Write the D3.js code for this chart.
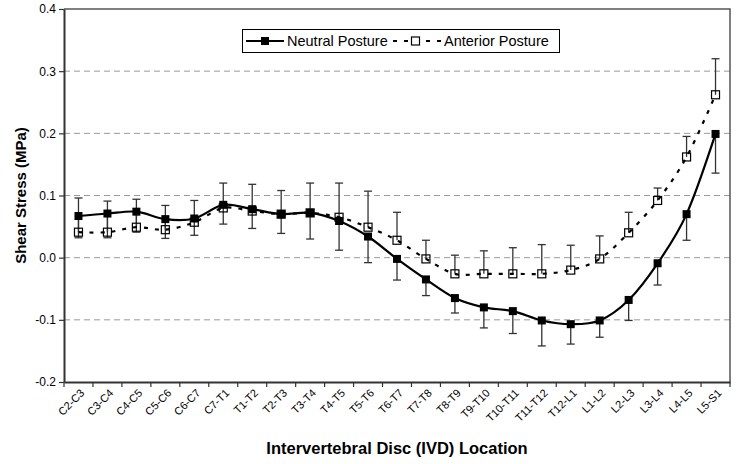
<!DOCTYPE html>
<html>
<head>
<meta charset="utf-8">
<script src="https://cdn.jsdelivr.net/npm/d3@7"></script>
<style>
  body { margin: 0; background: #fff; }
  svg { display: block; font-family: "Liberation Sans", Arial, sans-serif; }
</style>
</head>
<body>
<svg id="chart" width="738" height="464"></svg>
<script>
const categories = ["C2-C3","C3-C4","C4-C5","C5-C6","C6-C7","C7-T1","T1-T2","T2-T3","T3-T4","T4-T5","T5-T6","T6-T7","T7-T8","T8-T9","T9-T10","T10-T11","T11-T12","T12-L1","L1-L2","L2-L3","L3-L4","L4-L5","L5-S1"];
const neutral = [0.067,0.071,0.074,0.062,0.063,0.085,0.078,0.070,0.072,0.059,0.034,-0.002,-0.035,-0.065,-0.080,-0.086,-0.101,-0.107,-0.101,-0.068,-0.009,0.070,0.199];
const neutralErr = [0.035,0.039,0.033,0.031,0.027,0.031,0.031,0.031,0.042,0.047,0.042,0.034,0.026,0.024,0.033,0.036,0.041,0.032,0.027,0.033,0.035,0.042,0.063];
const anterior = [0.041,0.041,0.049,0.045,0.057,0.080,0.075,0.070,0.072,0.065,0.049,0.028,-0.002,-0.026,-0.026,-0.026,-0.026,-0.020,-0.002,0.040,0.092,0.162,0.262];
const anteriorErr = [0.055,0.050,0.045,0.039,0.035,0.040,0.043,0.038,0.048,0.055,0.058,0.045,0.030,0.030,0.037,0.042,0.047,0.040,0.037,0.033,0.020,0.033,0.058];
const yTicks = [0.4,0.3,0.2,0.1,0.0,-0.1,-0.2];
const yTickLabels = ["0.4","0.3","0.2","0.1","0.0","-0.1","-0.2"];
const seriesNames = ["Neutral Posture","Anterior Posture"];
const xTitle = "Intervertebral Disc (IVD) Location";
const yTitle = "Shear Stress (MPa)";

const svg = d3.select("#chart");
const L = 64, R = 730, T = 9, B = 382;
const x = d3.scaleBand().domain(categories).range([L, R]);
const y = d3.scaleLinear().domain([-0.2, 0.4]).range([B, T]);
const cx = c => x(c) + x.bandwidth() / 2;

// gridlines
svg.append("g").selectAll("line").data(yTicks.filter(t => t > -0.2 && t < 0.4)).join("line")
  .attr("x1", L).attr("x2", R).attr("y1", d => y(d)).attr("y2", d => y(d))
  .attr("stroke", "#999").attr("stroke-width", 1).attr("stroke-dasharray", "6,4");

// frame top/right
svg.append("path").attr("d", `M${L},${T}H${R}V${B}`).attr("fill", "none")
  .attr("stroke", "#555").attr("stroke-width", 1.5);

// y axis
const yAxis = d3.axisLeft(y).tickValues(yTicks).tickSize(5).tickSizeOuter(0)
  .tickFormat((d, i) => yTickLabels[i]);
const gy = svg.append("g").attr("transform", `translate(${L},0)`).call(yAxis);
gy.select(".domain").attr("stroke", "#333").attr("stroke-width", 2);
gy.selectAll(".tick line").attr("stroke", "#333").attr("stroke-width", 1.2);
gy.selectAll(".tick text").attr("font-size", 12).attr("fill", "#000").attr("x", -8)
  .attr("font-family", "Liberation Sans, Arial, sans-serif");

// x axis
const xAxis = d3.axisBottom(x).tickSize(0).tickSizeOuter(0).tickFormat("");
const gx = svg.append("g").attr("transform", `translate(0,${B})`).call(xAxis);
gx.select(".domain").attr("stroke", "#333").attr("stroke-width", 2);
const bounds = categories.map(c => x(c)).concat([R]);
svg.append("g").selectAll("line").data(bounds).join("line")
  .attr("x1", d => d).attr("x2", d => d).attr("y1", B).attr("y2", B + 5)
  .attr("stroke", "#333").attr("stroke-width", 1.2);
svg.append("g").selectAll("text").data(categories).join("text")
  .attr("transform", d => `translate(${cx(d) + 4},${B + 9}) rotate(-45)`)
  .attr("text-anchor", "end").attr("dy", "0.35em")
  .attr("font-size", 11).attr("fill", "#000").text(d => d);

// axis titles
svg.append("text").attr("x", (L + R) / 2).attr("y", 454).attr("text-anchor", "middle")
  .attr("font-size", 16.5).attr("font-weight", "bold").text(xTitle);
svg.append("text").attr("transform", `translate(21,${(T + B) / 2}) rotate(-90)`)
  .attr("text-anchor", "middle").attr("dy", "0.35em")
  .attr("font-size", 15).attr("font-weight", "bold").text(yTitle);

// error bars
function errBars(vals, errs, dir) {
  const g = svg.append("g").attr("stroke", "#333").attr("stroke-width", 1.3);
  categories.forEach((c, i) => {
    const x0 = cx(c), y0 = y(vals[i]), y1 = y(vals[i] + dir * errs[i]);
    g.append("line").attr("x1", x0).attr("x2", x0).attr("y1", y0).attr("y2", y1);
    g.append("line").attr("x1", x0 - 4).attr("x2", x0 + 4).attr("y1", y1).attr("y2", y1);
  });
}
errBars(anterior, anteriorErr, 1);
errBars(neutral, neutralErr, -1);

const line = d3.line().x((d, i) => cx(categories[i])).y(d => y(d)).curve(d3.curveCatmullRom.alpha(0));

svg.append("path").datum(anterior).attr("d", line).attr("fill", "none")
  .attr("stroke", "#000").attr("stroke-width", 2.2).attr("stroke-dasharray", "4,7");
svg.append("path").datum(neutral).attr("d", line).attr("fill", "none")
  .attr("stroke", "#000").attr("stroke-width", 2.2);

const ms = 8;
svg.append("g").selectAll("rect").data(anterior).join("rect")
  .attr("x", (d, i) => cx(categories[i]) - ms / 2).attr("y", d => y(d) - ms / 2)
  .attr("width", ms).attr("height", ms).attr("fill", "none").attr("stroke", "#000").attr("stroke-width", 1.2);
svg.append("g").selectAll("rect").data(neutral).join("rect")
  .attr("x", (d, i) => cx(categories[i]) - ms / 2).attr("y", d => y(d) - ms / 2)
  .attr("width", ms).attr("height", ms).attr("fill", "#000");

// legend
const lg = svg.append("g");
lg.append("rect").attr("x", 242.5).attr("y", 29.5).attr("width", 317).attr("height", 23)
  .attr("fill", "#fff").attr("stroke", "#000").attr("stroke-width", 1);
const ly = 41;
lg.append("line").attr("x1", 246).attr("x2", 284).attr("y1", ly).attr("y2", ly)
  .attr("stroke", "#000").attr("stroke-width", 2.2);
lg.append("rect").attr("x", 261).attr("y", ly - 4).attr("width", 8).attr("height", 8).attr("fill", "#000");
lg.append("text").attr("x", 287).attr("y", ly).attr("dy", "0.36em").attr("font-size", 14.5).text(seriesNames[0]);
lg.append("line").attr("x1", 393).attr("x2", 442).attr("y1", ly).attr("y2", ly)
  .attr("stroke", "#000").attr("stroke-width", 2.2).attr("stroke-dasharray", "4,7");
lg.append("rect").attr("x", 411.5).attr("y", ly - 4).attr("width", 8).attr("height", 8)
  .attr("fill", "#fff").attr("stroke", "#000").attr("stroke-width", 1.2);
lg.append("text").attr("x", 444).attr("y", ly).attr("dy", "0.36em").attr("font-size", 14.5).text(seriesNames[1]);
</script>
</body>
</html>
